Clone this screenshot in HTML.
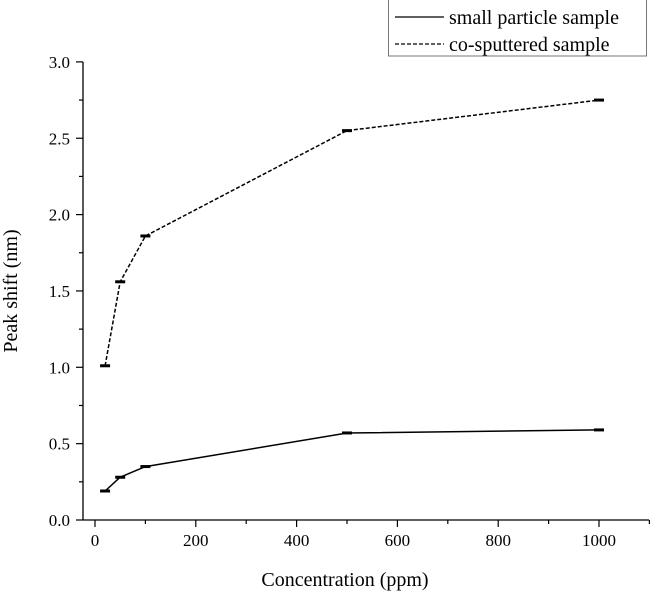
<!DOCTYPE html>
<html><head><meta charset="utf-8"><style>
body{margin:0;background:#fff}
svg{display:block;font-family:"Liberation Serif",serif}
</style></head><body>
<svg id="chart" width="651" height="591" viewBox="0 0 651 591">
<g id="axes"></g><g id="series"></g>
<g>
<rect x="388.5" y="-1" width="258" height="57" fill="#fff" stroke="#777" stroke-width="1"/>
<line x1="395" y1="17" x2="444" y2="17" stroke="#000" stroke-width="1.3"/>
<text x="449" y="24" font-size="20">small particle sample</text>
<line x1="395" y1="44" x2="444" y2="44" stroke="#000" stroke-width="1.3" stroke-dasharray="4,2"/>
<text x="449" y="51" font-size="20">co-sputtered sample</text>
</g>
<text x="345" y="586" font-size="20" text-anchor="middle">Concentration (ppm)</text>
<text transform="translate(17,291) rotate(-90)" font-size="20" text-anchor="middle">Peak shift (nm)</text>
</svg>
<script>
const concentrations = [20, 50, 100, 500, 1000];
const smallParticle = [0.19, 0.28, 0.35, 0.57, 0.59];
const coSputtered = [1.01, 1.56, 1.86, 2.55, 2.75];
const xTickLabels = [0, 200, 400, 600, 800, 1000];
const yTickLabels = ["0.0","0.5","1.0","1.5","2.0","2.5","3.0"];

const NS="http://www.w3.org/2000/svg";
const X0=83,Y0=520;
function xs(v){return 95+v*0.504;}
function ys(v){return 520-v*152.7;}
function mk(tag,attrs,parent){const e=document.createElementNS(NS,tag);for(const k in attrs)e.setAttribute(k,attrs[k]);parent.appendChild(e);return e;}
const axes=document.getElementById('axes'), series=document.getElementById('series');
let e=mk('line',{x1:X0,y1:Y0,x2:649,y2:Y0,stroke:'#000','stroke-width':1.3},axes);


e=mk('line',{x1:X0,y1:Y0,x2:X0,y2:ys(3),stroke:'#000','stroke-width':1.3},axes);


for(let v=0;v<=1100;v+=100){
  const major=v%200===0;
  e=mk('line',{x1:xs(v),y1:Y0,x2:xs(v),y2:Y0+(major?7:4),stroke:'#000','stroke-width':1.2},axes);
  
  
}
xTickLabels.forEach(v=>{
  e=mk('text',{x:xs(v),y:546,'font-size':17,'text-anchor':'middle'},axes);e.textContent=v;
  
  
});
for(let i=0;i<=12;i++){
  const v=i*0.25,major=i%2===0;
  e=mk('line',{x1:X0,y1:ys(v),x2:X0-(major?7:4),y2:ys(v),stroke:'#000','stroke-width':1.2},axes);
  
  
}
yTickLabels.forEach(s=>{
  e=mk('text',{x:70,y:ys(parseFloat(s))+6,'font-size':17,'text-anchor':'end'},axes);e.textContent=s;
  
  
});
function drawSeries(vals,dash,name){
  const pts=concentrations.map((c,i)=>xs(c).toFixed(1)+','+ys(vals[i]).toFixed(1)).join(' ');
  const attrs={points:pts,fill:'none',stroke:'#000','stroke-width':1.5};
  if(dash)attrs['stroke-dasharray']='4,2';
  let p=mk('polyline',attrs,series);
  
  
  concentrations.forEach((c,i)=>{
    let b=mk('line',{x1:xs(c)-5,y1:ys(vals[i]),x2:xs(c)+5,y2:ys(vals[i]),stroke:'#000','stroke-width':3},series);
    
    
  });
}
drawSeries(smallParticle,false,'small-particle');
drawSeries(coSputtered,true,'co-sputtered');
</script>
</body></html>
